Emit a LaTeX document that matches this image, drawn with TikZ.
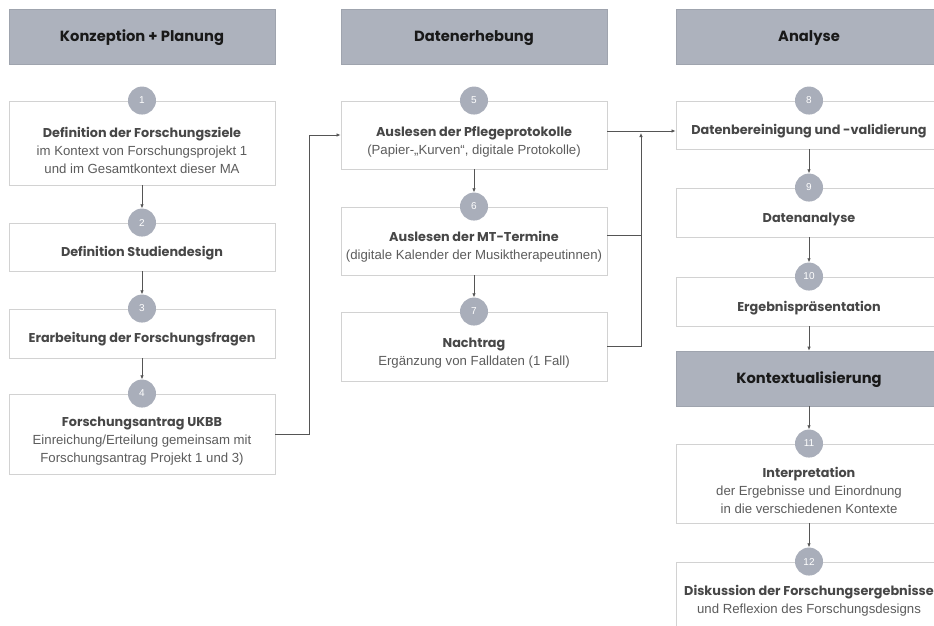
\documentclass[tikz,border=0pt]{standalone}
\usepackage{fontspec}
\setmainfont{Liberation Sans}
\newfontfamily\popfont{Poppins}
\usetikzlibrary{positioning}
\usetikzlibrary{calc}
\usetikzlibrary{arrows.meta}
\definecolor{headgray}{HTML}{ADB2BD}
\definecolor{numgray}{HTML}{A9AEBA}
\definecolor{framegray}{HTML}{D2D2D2}
\definecolor{linegray}{HTML}{555555}
\definecolor{titlegray}{HTML}{474747}
\definecolor{bodygray}{HTML}{5C5C5C}
\newcommand{\stitle}[1]{{\popfont\bfseries\fontsize{12.8}{18}\selectfont\color{titlegray}#1}}

\begin{document}
\begin{tikzpicture}[x=1pt, y=-1pt, >={Latex[length=4pt,width=3.5pt]}]
    \tikzset{
        header/.style={rectangle, fill=headgray, draw=headgray!92!black, line width=0.6pt,
            minimum width=266pt, minimum height=55pt, text=black!90, text height=10.5pt, text depth=0pt,
            font=\popfont\bfseries\fontsize{14.7}{16}\selectfont},
        box/.style={rectangle, draw=framegray, line width=0.9pt, fill=white, minimum width=266pt},
        txt/.style={align=center, text=bodygray, font=\fontsize{13.2}{18}\selectfont},
        num/.style={circle, fill=numgray, minimum size=28pt, inner sep=0pt, text=white,
            font=\fontsize{10}{10}\selectfont},
        arr/.style={->, draw=linegray, line width=0.7pt},
        link/.style={draw=linegray, line width=0.7pt},
    }
    \useasboundingbox (0,0) rectangle (934,626);

    % column headers
    \node[header] (hplan) at (142,36.5) {Konzeption + Planung};
    \node[header] (herh) at (474,36.5) {Datenerhebung};
    \node[header] (hana) at (809,36.5) {Analyse};

    % Konzeption + Planung
    \node[box, minimum height=84pt] (b1) at (142,143) {};
    \node[txt] (t1) at ([yshift=-7pt]b1.center) {\stitle{Definition der Forschungsziele}\\im Kontext von Forschungsprojekt 1\\und im Gesamtkontext dieser MA};
    \node[box, minimum height=48pt] (b2) at (142,247) {};
    \node[txt] (t2) at ([yshift=-6pt]b2.center) {\stitle{Definition Studiendesign}};
    \node[box, minimum height=49pt] (b3) at (142,333.5) {};
    \node[txt] (t3) at ([yshift=-6pt]b3.center) {\stitle{Erarbeitung der Forschungsfragen}};
    \node[box, minimum height=80pt] (b4) at (142,434) {};
    \node[txt] (t4) at ([yshift=-7pt]b4.center) {\stitle{Forschungsantrag UKBB}\\Einreichung/Erteilung gemeinsam mit\\Forschungsantrag Projekt 1 und 3)};

    % Datenerhebung
    \node[box, minimum height=68pt] (b5) at (474,135) {};
    \node[txt] (t5) at ([yshift=-7pt]b5.center) {\stitle{Auslesen der Pflegeprotokolle}\\(Papier-„Kurven“, digitale Protokolle)};
    \node[box, minimum height=68pt] (b6) at (474,241) {};
    \node[txt] (t6) at ([yshift=-6pt]b6.center) {\stitle{Auslesen der MT-Termine}\\(digitale Kalender der Musiktherapeutinnen)};
    \node[box, minimum height=69pt] (b7) at (474,346.5) {};
    \node[txt] (t7) at ([yshift=-7pt]b7.center) {\stitle{Nachtrag}\\Ergänzung von Falldaten (1 Fall)};

    % Analyse
    \node[box, minimum height=48pt] (b8) at (809,125) {};
    \node[txt] (t8) at ([yshift=-6.5pt]b8.center) {\stitle{Datenbereinigung und -validierung}};
    \node[box, minimum height=49pt] (b9) at (809,212.5) {};
    \node[txt] (t9) at ([yshift=-6.5pt]b9.center) {\stitle{Datenanalyse}};
    \node[box, minimum height=49pt] (b10) at (809,301.5) {};
    \node[txt] (t10) at ([yshift=-7pt]b10.center) {\stitle{Ergebnispräsentation}};
    \node[header] (hkon) at (809,378.5) {Kontextualisierung};
    \node[box, minimum height=79pt] (b11) at (809,483.5) {};
    \node[txt] (t11) at ([yshift=-7pt]b11.center) {\stitle{Interpretation}\\der Ergebnisse und Einordnung\\in die verschiedenen Kontexte};
    \node[box, minimum height=76pt] (b12) at (809,600) {};
    \node[txt] (t12) at ([yshift=-1pt]b12.center) {\stitle{Diskussion der Forschungsergebnisse}\\und Reflexion des Forschungsdesigns};

    % step numbers
    \foreach \b/\n in {b1/1,b2/2,b3/3,b4/4,b5/5,b6/6,b7/7,b8/8,b9/9,b10/10,b11/11,b12/12}
        \node[num] (n\n) at (\b.north) {\n};

    % connectors
    \draw[arr] (b1.south) -- (n2.north);
    \draw[arr] (b2.south) -- (n3.north);
    \draw[arr] (b3.south) -- (n4.north);
    \draw[arr] (b4.east) -- ++(34,0) |- (b5.west);
    \draw[arr] (b5.south) -- (n6.north);
    \draw[arr] (b6.south) -- (n7.north);
    \coordinate (join) at (641,131);
    \draw[arr] (b5.east |- join) -- (b8.west |- join);
    \draw[link] ([yshift=6pt]b6.east) -- ([yshift=6pt]b6.east -| join);
    \draw[arr] (b7.east) -| ([yshift=-2pt]join);
    \draw[arr] (b8.south) -- (n9.north);
    \draw[arr] (b9.south) -- (n10.north);
    \draw[arr] (b10.south) -- (hkon.north);
    \draw[arr] (hkon.south) -- (n11.north);
    \draw[arr] (b11.south) -- (n12.north);
\end{tikzpicture}
\end{document}
